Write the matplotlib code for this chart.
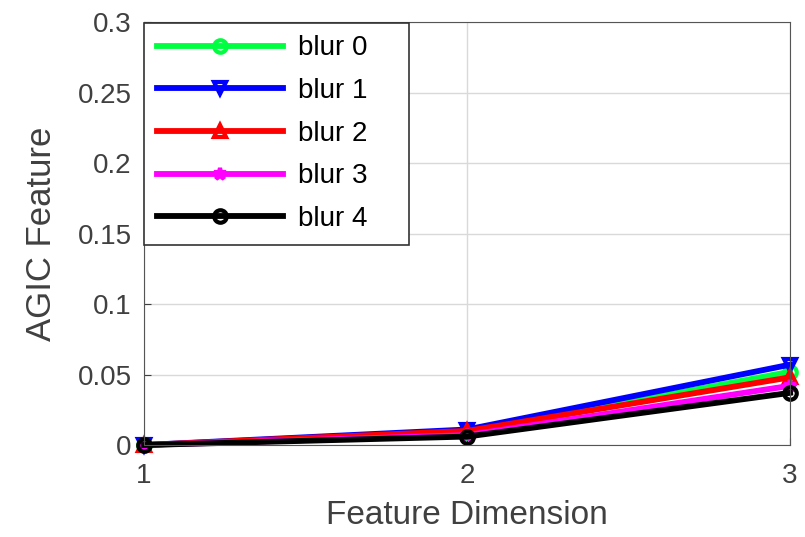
import matplotlib.pyplot as plt

plt.rcParams['font.family'] = ['Liberation Sans', 'DejaVu Sans']

dims = [1, 2, 3]
blur0 = [0.0, 0.009, 0.052]
blur1 = [0.0, 0.011, 0.057]
blur2 = [0.0, 0.010, 0.048]
blur3 = [0.0, 0.007, 0.042]
blur4 = [0.0, 0.006, 0.037]

series = [
    (blur0, '#00ff40', 'o', 'blur 0'),
    (blur1, '#0000ff', 'v', 'blur 1'),
    (blur2, '#ff0000', '^', 'blur 2'),
    (blur3, '#ff00ff', '*', 'blur 3'),
    (blur4, '#000000', 'o', 'blur 4'),
]

fig = plt.figure(figsize=(8.05, 5.37), dpi=100)
ax = fig.add_axes([0.179, 0.1713, 0.8025, 0.7877])

for vals, col, mk, lab in series:
    ax.plot(dims, vals, color=col, marker=mk, markersize=9, markerfacecolor='none',
            markeredgewidth=3, linewidth=4.2, label=lab, clip_on=False)

ax.set_xlim(1, 3)
ax.set_ylim(0, 0.3)
ax.set_xticks([1, 2, 3])
ax.set_yticks([0, 0.05, 0.1, 0.15, 0.2, 0.25, 0.3])
ax.set_yticklabels(['0', '0.05', '0.1', '0.15', '0.2', '0.25', '0.3'])
ax.grid(True, color='#d9d9d9', linewidth=1)
ax.tick_params(direction='in', labelsize=20, colors='#404040', length=5)
ax.tick_params(axis='x', pad=13)
ax.tick_params(axis='y', pad=9)
for s in ax.spines.values():
    s.set_color('#555555')
ax.set_xlabel('Feature Dimension', fontsize=24, color='#404040', labelpad=8)
ax.set_ylabel('AGIC Feature', fontsize=25, color='#404040', labelpad=14)

leg = ax.legend(loc='upper left', bbox_to_anchor=(0, 0.998, 0.41, 0), mode='expand',
                fontsize=20, handlelength=4.55, handletextpad=0.55, borderaxespad=0.0,
                fancybox=False, framealpha=1, labelspacing=0.6, borderpad=0.45)
leg.get_frame().set_edgecolor('#333333')
leg.get_frame().set_linewidth(1.2)

fig.savefig('out.png', dpi=100)
